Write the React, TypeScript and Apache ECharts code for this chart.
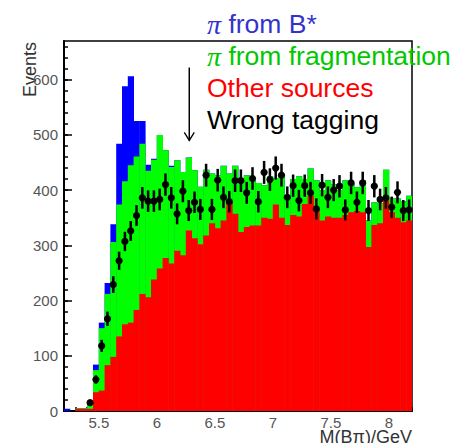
import React, { useEffect, useRef } from "react";
import * as echarts from "echarts";

// Histogram binning (GeV)
const binStart = 5.2;
const binWidth = 0.05;
const xMin = 5.2;
const xMax = 8.2;
const yMax = 670;

// Stacked histogram outlines as drawn (cumulative heights, events per bin)
const otherSources = [
  0, 0, 4, 4, 4, 34, 37, 83, 98, 135,
  157, 160, 183, 212, 206, 238, 258, 277, 267, 290,
  282, 327, 313, 302, 318, 340, 331, 345, 378, 357,
  324, 333, 336, 336, 350, 348, 374, 350, 337, 355,
  352, 375, 390, 365, 345, 352, 350, 350, 355, 360,
  362, 360, 297, 337, 340, 381, 360, 350, 342, 345,
];
const plusFragmentation = [
  0, 0, 5, 5, 18, 74, 150, 212, 306, 374,
  416, 445, 461, 484, 435, 455, 500, 472, 442, 454,
  433, 459, 436, 406, 437, 430, 427, 444, 430, 444,
  413, 427, 418, 413, 409, 425, 422, 425, 387, 420,
  425, 420, 439, 418, 400, 418, 410, 400, 418, 412,
  405, 418, 345, 378, 376, 437, 385, 385, 380, 390,
];
const plusBstar = [
  4, 0, 5, 5, 18, 84, 160, 232, 338, 484,
  588, 606, 525, 525, 446, 457, 500, 472, 444, 454,
  433, 459, 436, 406, 437, 430, 427, 444, 430, 444,
  413, 427, 418, 413, 409, 425, 422, 425, 387, 420,
  425, 420, 439, 418, 400, 418, 410, 400, 418, 412,
  405, 418, 345, 378, 376, 437, 385, 385, 380, 390,
];
// Measured events ("Wrong tagging" data points)
const measured = [
  null, null, null, null, 15, 57, 118, 167, 229, 272,
  307, 326, 354, 386, 380, 380, 383, 410, 386, 357,
  398, 363, 378, 365, 427, 365, 418, 387, 379, 417,
  417, 395, 421, 379, 432, 419, 440, 427, 387, 408,
  381, 408, 395, 366, 409, 387, 400, 407, 364, 413,
  378, 413, 363, 407, 383, 386, 369, 396, 363, 364,
];

const xTickLabels = [5.5, 6, 6.5, 7, 7.5, 8];
const yTickLabels = [0, 100, 200, 300, 400, 500, 600];
const xMinorStep = 0.1;
const yMinorStep = 20;

const arrowMark = { x: 6.28, top: 622, tip: 490 };

const legendEntries = [
  { pi: true, text: " from B*", color: "#3333cc" },
  { pi: true, text: " from fragmentation", color: "#00c800" },
  { pi: false, text: "Other sources", color: "#ff0000" },
  { pi: false, text: "Wrong tagging", color: "#000000" },
];

const FONT = "'Liberation Sans', Arial, sans-serif";

function histSeries(values: number[], color: string, z: number) {
  return {
    type: "custom",
    coordinateSystem: "cartesian2d",
    clip: true,
    silent: true,
    z,
    encode: { x: [0, 1], y: 2 },
    data: values.map((v, i) => [binStart + i * binWidth, binStart + (i + 1) * binWidth, v]),
    renderItem: (_p: any, api: any) => {
      const lo = api.value(0);
      const hi = api.value(1);
      const v = api.value(2);
      if (!v) return null;
      const p0 = api.coord([lo, v]);
      const p1 = api.coord([hi, 0]);
      return {
        type: "rect",
        shape: { x: p0[0], y: p0[1], width: p1[0] - p0[0] + 0.4, height: p1[1] - p0[1] },
        style: { fill: color },
      };
    },
  };
}

export default function App() {
  const ref = useRef<HTMLDivElement>(null);
  useEffect(() => {
    document.body.style.margin = "0";
    if (!ref.current) return;
    const chart = echarts.init(ref.current, undefined, { renderer: "svg" });

    const xMinor: number[] = [];
    for (let k = 0; k <= Math.round((xMax - xMin) / xMinorStep); k++) {
      xMinor.push(Math.round((xMin + k * xMinorStep) * 100) / 100);
    }
    const yMinor: number[] = [];
    for (let v = 0; v < yMax; v += yMinorStep) yMinor.push(v);

    const points = measured
      .map((v, i) => (v == null ? null : [binStart + (i + 0.5) * binWidth, v]))
      .filter((d) => d != null);

    const axisLabelStyle = { color: "#555", fontSize: 15, fontFamily: FONT };

    const graphics: any[] = legendEntries.map((e, i) => ({
      type: "text",
      x: 207,
      y: 24 + i * 32,
      z: 100,
      style: {
        text: e.pi ? `{pi|π}{t|${e.text}}` : `{t|${e.text}}`,
        verticalAlign: "middle",
        align: "left",
        rich: {
          pi: { fontFamily: "'Liberation Serif', serif", fontStyle: "italic", fontSize: 28, fill: e.color, color: e.color },
          t: { fontFamily: FONT, fontSize: 26.5, fill: e.color, color: e.color },
        },
      },
    }));
    graphics.push({
      type: "text",
      x: 30,
      y: 42,
      rotation: Math.PI / 2,
      style: { text: "Events", font: `18px ${FONT}`, fill: "#333", align: "right", verticalAlign: "middle" },
    });
    graphics.push({
      type: "text",
      x: 412,
      y: 437,
      style: { text: "M(Bπ)/GeV", font: `18px ${FONT}`, fill: "#333", align: "right", verticalAlign: "middle" },
    });

    chart.setOption({
      animation: false,
      grid: {
        left: 64,
        top: 41,
        right: 42,
        bottom: 32,
        show: true,
        borderColor: "#000",
        borderWidth: 1.5,
        backgroundColor: "transparent",
      },
      xAxis: [
        {
          type: "value",
          min: xMin,
          max: xMax,
          position: "bottom",
          axisLine: { show: true, lineStyle: { color: "#000", width: 2 } },
          axisTick: { show: true, inside: true, length: 7, customValues: xTickLabels, lineStyle: { color: "#000", width: 1.5 } },
          axisLabel: { show: true, customValues: xTickLabels, margin: 4, formatter: (v: number) => String(v), ...axisLabelStyle },
          splitLine: { show: false },
        },
        {
          type: "value",
          min: xMin,
          max: xMax,
          position: "bottom",
          axisLine: { show: false },
          axisTick: { show: true, inside: true, length: 4, customValues: xMinor, lineStyle: { color: "#000", width: 1.5 } },
          axisLabel: { show: false },
          splitLine: { show: false },
        },
      ],
      yAxis: [
        {
          type: "value",
          min: 0,
          max: yMax,
          position: "left",
          axisLine: { show: true, lineStyle: { color: "#000", width: 2 } },
          axisTick: { show: true, inside: true, length: 8, customValues: yTickLabels, lineStyle: { color: "#000", width: 1.5 } },
          axisLabel: { show: true, customValues: yTickLabels, margin: 6, ...axisLabelStyle },
          splitLine: { show: false },
        },
        {
          type: "value",
          min: 0,
          max: yMax,
          position: "left",
          axisLine: { show: false },
          axisTick: { show: true, inside: true, length: 4, customValues: yMinor, lineStyle: { color: "#000", width: 1.5 } },
          axisLabel: { show: false },
          splitLine: { show: false },
        },
      ],
      series: [
        histSeries(plusBstar, "#0000ff", 1),
        histSeries(plusFragmentation, "#00ff00", 2),
        histSeries(otherSources, "#ff0000", 3),
        {
          type: "custom",
          coordinateSystem: "cartesian2d",
          clip: false,
          silent: true,
          z: 5,
          encode: { x: 0, y: 1 },
          data: points,
          renderItem: (_p: any, api: any) => {
            const x = api.value(0);
            const v = api.value(1);
            const err = Math.sqrt(v);
            const c = api.coord([x, v]);
            const t = api.coord([x, v + err]);
            const b = api.coord([x, Math.max(0, v - err)]);
            const l = api.coord([x - binWidth / 2, v]);
            const r = api.coord([x + binWidth / 2, v]);
            return {
              type: "group",
              children: [
                { type: "line", shape: { x1: c[0], y1: t[1], x2: c[0], y2: b[1] }, style: { stroke: "#000", lineWidth: 2.5 } },
                { type: "line", shape: { x1: l[0], y1: c[1], x2: r[0], y2: c[1] }, style: { stroke: "#000", lineWidth: 1.5 } },
                { type: "circle", shape: { cx: c[0], cy: c[1], r: 3.6 }, style: { fill: "#000" } },
              ],
            };
          },
        },
        {
          type: "custom",
          coordinateSystem: "cartesian2d",
          clip: false,
          silent: true,
          z: 6,
          encode: { x: 0, y: [1, 2] },
          data: [[arrowMark.x, arrowMark.top, arrowMark.tip]],
          renderItem: (_p: any, api: any) => {
            const top = api.coord([api.value(0), api.value(1)]);
            const tip = api.coord([api.value(0), api.value(2)]);
            return {
              type: "group",
              children: [
                { type: "line", shape: { x1: top[0], y1: top[1], x2: tip[0], y2: tip[1] }, style: { stroke: "#000", lineWidth: 1.5 } },
                {
                  type: "polyline",
                  shape: { points: [[tip[0] - 5, tip[1] - 8], [tip[0], tip[1]], [tip[0] + 5, tip[1] - 8]] },
                  style: { stroke: "#000", lineWidth: 1.3, fill: "none" },
                },
              ],
            };
          },
        },
      ],
      graphic: graphics,
    });
    return () => chart.dispose();
  }, []);
  return <div ref={ref} style={{ width: 454, height: 443 }} />;
}
